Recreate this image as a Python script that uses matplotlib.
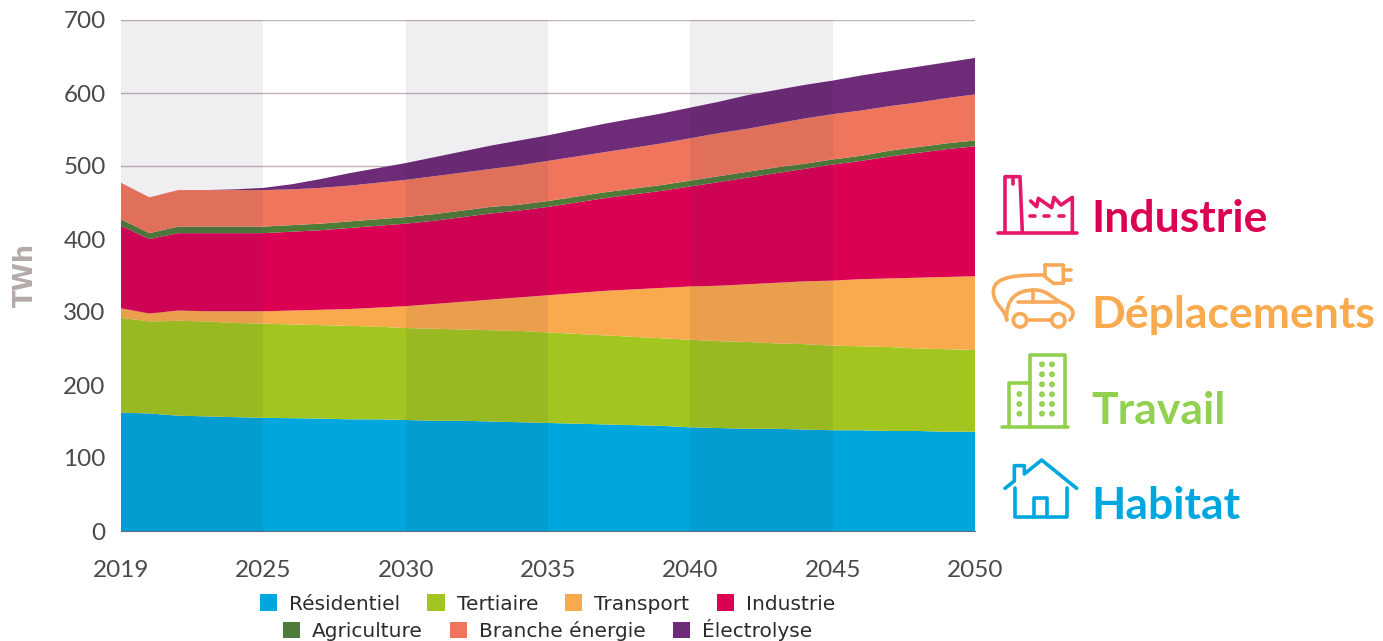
import matplotlib
matplotlib.use('Agg')
import matplotlib.pyplot as plt
from matplotlib.patches import Circle, PathPatch
from matplotlib.path import Path

years = [2019] + list(range(2021, 2051))
residentiel = [162, 161, 158, 157, 156, 155, 154.5, 154, 153, 153, 152, 151, 151, 150, 149, 148,
               147, 146, 145, 144, 142, 141, 140, 140, 139, 138, 138, 137, 137, 136, 136]
tertiaire = [130, 126, 130, 130, 129, 129, 128.5, 128, 128, 127, 126, 126, 125, 125, 125, 124,
             123, 122, 121, 120, 120, 119, 119, 117, 117, 116, 115, 115, 113, 113, 112]
transport = [13, 11, 14, 14, 16, 17, 19, 21, 23, 26, 30, 34, 38, 42, 46, 51,
             56, 61, 65, 69, 73, 76, 79, 83, 86, 89, 92, 94, 97, 99, 101]
industrie = [113, 102, 106, 107, 107, 107, 108, 109, 111, 112, 113, 114, 116, 118, 119, 121,
             124, 127, 130, 133, 137, 142, 146, 150, 154, 159, 162, 167, 171, 175, 178]
agriculture = [9, 8, 9, 9, 9, 9, 9, 9, 9, 9, 9, 9, 9, 9, 8, 8,
               8, 8, 8, 8, 8, 8, 8, 8, 7, 7, 7, 8, 8, 8, 8]
branche = [50, 49, 50, 50, 50, 50, 49, 49, 49, 50, 51, 52, 52, 52, 54, 55,
           55, 55, 56, 57, 58, 59, 59, 60, 62, 62, 62, 61, 61, 62, 63]
electrolyse = [0, 0, 0, 0, 1, 3, 7, 12, 17, 20, 23, 26, 29, 32, 34, 35,
               37, 39, 40, 41, 42, 43, 46, 46, 46, 46, 48, 48, 49, 49, 50]

series = [residentiel, tertiaire, transport, industrie, agriculture, branche, electrolyse]
labels = ['Résidentiel', 'Tertiaire', 'Transport', 'Industrie', 'Agriculture', 'Branche énergie', 'Électrolyse']
colors = ['#00a7de', '#a2c61f', '#f8aa4c', '#dc0055', '#4f7b39', '#ef765c', '#6e2b78']
year_ticks = [2019, 2025, 2030, 2035, 2040, 2045, 2050]
bands = [(2019, 2025), (2030, 2035), (2040, 2045)]

W, H = 1383, 641
fig = plt.figure(figsize=(W / 100, H / 100), dpi=100)
ax = fig.add_axes([121 / W, 1 - 531 / H, 854 / W, 511 / H])

# years sit on evenly spaced slots, 2020 has no slot
xpos = list(range(len(years)))
polys = ax.stackplot(xpos, series, colors=colors, linewidth=0, zorder=2)

for a, b in bands:
    ax.axvspan(years.index(a), years.index(b), color='#3a2a4a', alpha=0.08, lw=0, zorder=3)

ax.set_xlim(0, len(years) - 1)
ax.set_ylim(0, 700)
ax.set_yticks(range(0, 701, 100))
ax.set_xticks([years.index(y) for y in year_ticks])
ax.set_xticklabels(year_ticks)
ax.grid(axis='y', color='#c2b2bc', lw=1.0, zorder=1)
ax.set_axisbelow(True)
ax.tick_params(length=0, labelsize=17.5, labelcolor='#4a4a4a', labelfontfamily='Lato')
ax.tick_params(axis='x', pad=21)
ax.tick_params(axis='y', pad=11)
for s in ['top', 'right', 'left']:
    ax.spines[s].set_visible(False)
ax.spines['bottom'].set_color('#5b6f7d')
ax.spines['bottom'].set_linewidth(0.8)
ax.spines['bottom'].set_zorder(4)
fig.text(26 / W, 1 - 275 / H, 'TWh', rotation=90, ha='center', va='center',
         fontsize=18.5, fontweight='bold', color='#b5a9a9')

# legend, two centred rows
legend_style = dict(loc='center', frameon=False, fontsize=14.5, handlelength=0.85, handleheight=0.85,
                    handletextpad=0.6, columnspacing=1.35, borderpad=0, borderaxespad=0,
                    labelcolor='#2b2b2b')
fig.legend(polys[:4], labels[:4], ncol=4, bbox_to_anchor=(547.5 / W, 1 - 604 / H), **legend_style)
fig.legend(polys[4:], labels[4:], ncol=3, bbox_to_anchor=(547.5 / W, 1 - 630 / H), **legend_style)

# overlay in pixel coordinates for the theme labels and pictograms
over = fig.add_axes([0, 0, 1, 1])
over.set_xlim(0, W)
over.set_ylim(H, 0)
over.axis('off')
over.patch.set_alpha(0)


def px(p):
    return (985 + p[0] / 3, 165 + p[1] / 3)


def stroke(pts, color, lw=2.6):
    xs, ys = zip(*[px(p) for p in pts])
    over.plot(xs, ys, color=color, lw=lw, solid_capstyle='round', solid_joinstyle='round')


def curve(verts, color, lw=2.6):
    # cubic bezier through groups of control points
    codes = [Path.MOVETO] + [Path.CURVE4] * (len(verts) - 1)
    over.add_patch(PathPatch(Path([px(v) for v in verts], codes), fc='none', ec=color, lw=lw,
                             capstyle='round'))


def ring(c, r, color, lw=2.6, fill='none'):
    x, y = px(c)
    over.add_patch(Circle((x, y), r / 3, fc=fill, ec=color, lw=lw))


themes = [('Industrie', 1091, 219, '#dc0055'), ('Déplacements', 1091, 315, '#f8aa4c'),
          ('Travail', 1091, 411, '#92d050'), ('Habitat', 1091, 506, '#00a7de')]
for name, x, y, c in themes:
    over.text(x, y, name, fontsize=32, fontweight='bold', family='Lato', color=c, va='center', ha='left')

# factory
c = '#e5176a'
stroke([(40, 203), (275, 203)], c)
stroke([(60, 203), (60, 35), (105, 35), (112, 203)], c)
stroke([(84, 35), (84, 58)], c)
stroke([(137, 108), (155, 125), (160, 100), (200, 128), (207, 97), (228, 120), (262, 97), (262, 203)], c)
for x0 in (135, 177, 222):
    stroke([(x0, 152), (x0 + 14, 152)], c)

# car and plug
c = '#f8aa5a'
curve([(180, 330), (110, 330), (25, 330), (25, 380), (25, 420), (65, 435), (65, 465)], c)
stroke([(180, 300), (235, 300), (235, 355), (205, 355), (180, 335), (180, 300)], c)
stroke([(235, 316), (258, 316)], c)
stroke([(235, 344), (258, 344)], c)
curve([(65, 465), (62, 400), (95, 375), (150, 375), (190, 375), (205, 405), (235, 415)], c)
curve([(235, 415), (265, 428), (272, 445), (255, 465)], c)
stroke([(98, 410), (215, 410)], c)
stroke([(143, 375), (143, 410)], c)
stroke([(130, 465), (195, 465)], c)
ring((105, 466), 20, c)
ring((220, 466), 20, c)

# office buildings
c = '#92d050'
stroke([(52, 786), (250, 786)], c)
stroke([(135, 786), (135, 570), (240, 570), (240, 786)], c)
stroke([(72, 786), (72, 655), (135, 655)], c)
for y in (598, 628, 658, 688, 717, 746):
    ring((171, y), 5, c, lw=1.8)
    ring((201, y), 5, c, lw=1.8)
for y in (687, 717, 746):
    ring((103, y), 5, c, lw=1.8)

# house
c = '#00a7de'
stroke([(60, 970), (88, 948), (88, 902), (118, 902), (118, 927), (170, 885), (275, 970)], c)
stroke([(90, 968), (90, 1055), (245, 1055), (245, 968)], c)
stroke([(147, 1055), (147, 1000), (187, 1000), (187, 1055)], c)

fig.savefig('out.png', dpi=100)
